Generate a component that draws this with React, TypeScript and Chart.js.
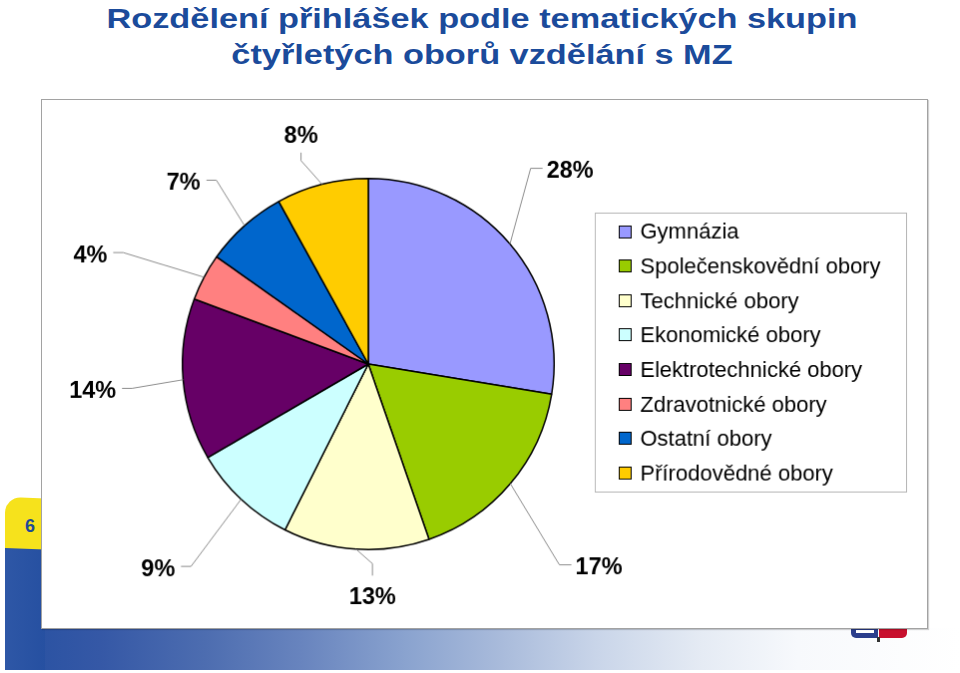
import React, { useEffect, useRef } from "react";
import { Chart, registerables } from "chart.js";

Chart.register(...registerables);

// ---- data ----
const TITLE_LINES = [
  "Rozdělení přihlášek podle tematických skupin",
  "čtyřletých oborů vzdělání s MZ",
];
const CATEGORIES = [
  "Gymnázia",
  "Společenskovědní obory",
  "Technické obory",
  "Ekonomické obory",
  "Elektrotechnické obory",
  "Zdravotnické obory",
  "Ostatní obory",
  "Přírodovědné obory",
];
const SHARES = [27.6, 17.1, 12.7, 9.2, 14.1, 4.1, 7.2, 8.0];
const COLORS = [
  "#9999FF",
  "#99CC00",
  "#FFFFCC",
  "#CCFFFF",
  "#660066",
  "#FF8080",
  "#0066CC",
  "#FFCC00",
];
const SLIDE_NUMBER = "6";

// ---- label placement style (radial distance factor, angular tweak in degrees) ----
const LABEL_DIST = [1.51, 1.65, 1.25, 1.575, 1.49, 1.61, 1.4, 1.29];
const LABEL_TURN = [-3.7, 1.1, -4.8, 2.7, -0.4, -6.2, -3.5, -1.9];

const FONT = "'Liberation Sans', Arial, Helvetica, sans-serif";
const LABEL_SIZE = 23.5;
const LEGEND_SIZE = 22;

const outsideLabels = {
  id: "outsideLabels",
  afterDatasetsDraw(chart: any) {
    const ctx = chart.ctx as CanvasRenderingContext2D;
    const meta = chart.getDatasetMeta(0);
    const data = chart.data.datasets[0].data as number[];
    const total = data.reduce((a, b) => a + b, 0);
    ctx.save();
    ctx.font = `bold ${LABEL_SIZE}px ${FONT}`;
    const capH = LABEL_SIZE * 0.716;
    meta.data.forEach((el: any, i: number) => {
      const { x, y, startAngle, endAngle, outerRadius } = el.getProps(
        ["x", "y", "startAngle", "endAngle", "outerRadius"],
        true
      );
      const mid = (startAngle + endAngle) / 2;
      const text = Math.round((data[i] / total) * 100) + "%";
      const ax = x + Math.cos(mid) * outerRadius;
      const ay = y + Math.sin(mid) * outerRadius;
      const la = mid + (LABEL_TURN[i] * Math.PI) / 180;
      const lx = x + Math.cos(la) * outerRadius * LABEL_DIST[i];
      const ly = y + Math.sin(la) * outerRadius * LABEL_DIST[i];
      const w = ctx.measureText(text).width;
      let ex: number, ey: number, sx: number, sy: number;
      if (Math.abs(Math.sin(mid)) > 0.9) {
        sx = lx;
        ex = lx;
        if (ly < y) {
          sy = ly + capH / 2 + 10;
          ey = sy + 8;
        } else {
          sy = ly - capH / 2 - 12;
          ey = sy - 12;
        }
      } else {
        sy = ly - 1;
        ey = ly - 1;
        if (lx > x) {
          sx = lx - w / 2 - 4;
          ex = sx - 12;
        } else {
          sx = lx + w / 2 + 6;
          ex = sx + 10;
        }
      }
      ctx.strokeStyle = "#8C8C8C";
      ctx.lineWidth = 1;
      ctx.beginPath();
      ctx.moveTo(ax, ay);
      ctx.lineTo(ex, ey);
      ctx.lineTo(sx, sy);
      ctx.stroke();
      ctx.fillStyle = "#000";
      ctx.textAlign = "center";
      ctx.textBaseline = "alphabetic";
      ctx.fillText(text, lx, ly + capH / 2);
    });
    ctx.restore();
  },
};

const boxedLegend = {
  id: "boxedLegend",
  afterDraw(chart: any) {
    const ctx = chart.ctx as CanvasRenderingContext2D;
    const area = chart.chartArea;
    const labels = chart.data.labels as string[];
    const colors = chart.data.datasets[0].backgroundColor as string[];
    const left = Math.round(area.right + 40) + 0.5;
    const top = Math.round(area.top + 35) + 0.5;
    const width = 312;
    const rowH = 34.66;
    const height = 280;
    ctx.save();
    ctx.strokeStyle = "#B4B4B4";
    ctx.lineWidth = 1;
    ctx.strokeRect(left, top, width, height);
    ctx.font = `${LEGEND_SIZE}px ${FONT}`;
    ctx.textAlign = "left";
    ctx.textBaseline = "alphabetic";
    labels.forEach((lab, i) => {
      const cy = top + 18 + i * rowH;
      const sq = 12;
      const sqx = Math.round(left + 23) + 0.5;
      const sqy = Math.round(cy - sq / 2) + 0.5;
      ctx.fillStyle = colors[i];
      ctx.fillRect(sqx, sqy, sq, sq);
      ctx.strokeStyle = "#000";
      ctx.strokeRect(sqx, sqy, sq, sq);
      ctx.fillStyle = "#000";
      ctx.fillText(lab, left + 45, cy + LEGEND_SIZE * 0.358);
    });
    ctx.restore();
  },
};

export default function App() {
  const canvasRef = useRef<HTMLCanvasElement | null>(null);

  useEffect(() => {
    if (!canvasRef.current) return;
    const chart = new Chart(canvasRef.current, {
      type: "pie",
      data: {
        labels: CATEGORIES,
        datasets: [
          {
            data: SHARES,
            backgroundColor: COLORS,
            borderColor: "#000000",
            borderWidth: 1.5,
            hoverOffset: 0,
            offset: 0,
          },
        ],
      },
      options: {
        responsive: false,
        animation: false,
        layout: { padding: { left: 140, right: 373, top: 78, bottom: 78 } },
        plugins: {
          legend: { display: false },
          tooltip: { enabled: false },
          title: { display: false },
        },
      },
      plugins: [outsideLabels, boxedLegend],
    } as any);
    return () => chart.destroy();
  }, []);

  return (
    <div
      style={{
        position: "fixed",
        left: 0,
        top: 0,
        width: 960,
        height: 673,
        overflow: "hidden",
        background: "#ffffff",
        fontFamily: FONT,
      }}
    >
      {/* title */}
      <div
        style={{
          position: "absolute",
          left: 0,
          top: 1,
          width: 964,
          textAlign: "center",
          fontWeight: "bold",
          fontSize: 28,
          lineHeight: "36px",
          color: "#1B4B9B",
          transform: "scaleX(1.225)",
          transformOrigin: "482px 0",
          whiteSpace: "nowrap",
        }}
      >
        {TITLE_LINES.map((t, i) => (
          <div key={i}>{t}</div>
        ))}
      </div>

      {/* bottom gradient band */}
      <div
        style={{
          position: "absolute",
          left: 5,
          top: 628,
          width: 955,
          height: 42,
          background:
            "linear-gradient(to right, #2650A1 0%, #3558A6 10%, #4D6DB0 21%, #6884BE 31%, #8AA3CF 42%, #A9BBDB 52%, #C9D5E9 62%, #E5EBF4 73%, #F7F9FC 83%, #FFFFFF 100%)",
        }}
      />
      {/* left blue bar */}
      <div
        style={{
          position: "absolute",
          left: 5,
          top: 546,
          width: 40,
          height: 124,
          background: "linear-gradient(to right, #2E57A6, #2650A1)",
        }}
      />
      {/* yellow tab with slide number */}
      <div
        style={{
          position: "absolute",
          left: 5,
          top: 497,
          width: 40,
          height: 51,
          background: "#F6E21C",
          borderTopLeftRadius: 16,
          transform: "skewY(2deg)",
          transformOrigin: "0 100%",
        }}
      />
      <div
        style={{
          position: "absolute",
          left: 18,
          top: 515,
          width: 24,
          textAlign: "center",
          fontWeight: "bold",
          fontSize: 18,
          lineHeight: "22px",
          color: "#1F4A96",
        }}
      >
        {SLIDE_NUMBER}
      </div>
      {/* small logo peeking under the box */}
      <div
        style={{
          position: "absolute",
          left: 851,
          top: 626,
          width: 27,
          height: 12,
          background: "#2B3E8C",
          borderBottomLeftRadius: 5,
        }}
      />
      <div
        style={{
          position: "absolute",
          left: 856,
          top: 630,
          width: 18,
          height: 3,
          background: "#FFFFFF",
        }}
      />
      <div
        style={{
          position: "absolute",
          left: 879,
          top: 626,
          width: 28,
          height: 12,
          background: "#C8102E",
          borderBottomRightRadius: 5,
        }}
      />
      <div
        style={{
          position: "absolute",
          left: 877,
          top: 637,
          width: 3,
          height: 5,
          background: "#333",
        }}
      />

      {/* chart box */}
      <canvas
        ref={canvasRef}
        width={887}
        height={530}
        style={{
          position: "absolute",
          left: 41,
          top: 99,
          width: 887,
          height: 530,
          background: "#ffffff",
          border: "1px solid #A2A2A2",
          boxShadow: "1px 1px 1px rgba(0,0,0,0.18)",
        }}
      />
    </div>
  );
}
